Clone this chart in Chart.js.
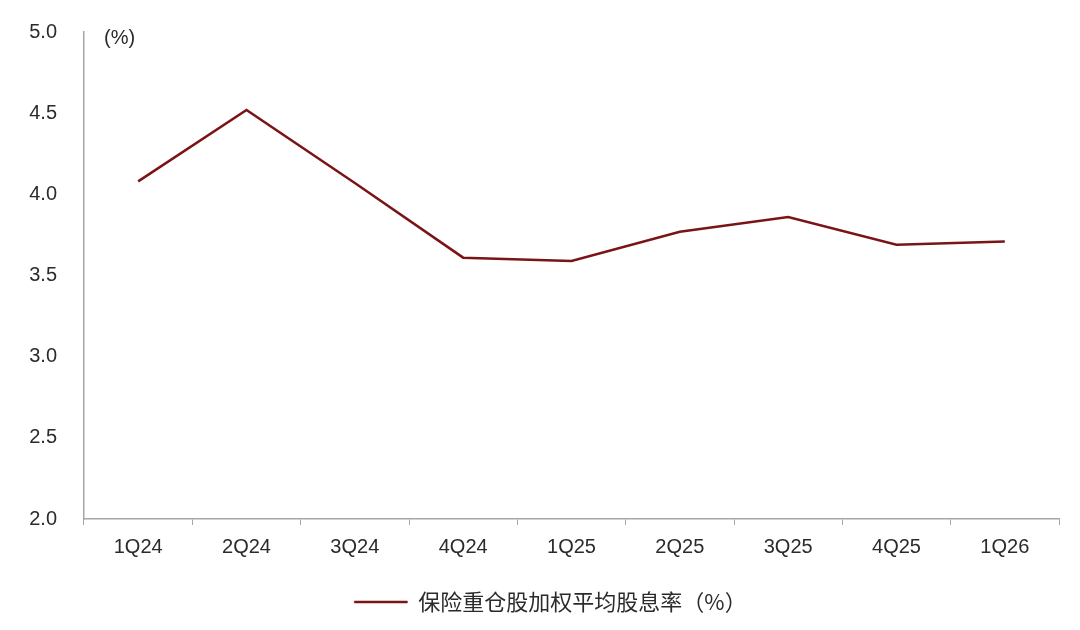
<!DOCTYPE html>
<html>
<head>
<meta charset="utf-8">
<script src="https://cdn.jsdelivr.net/npm/chart.js@4"></script>
<style>
  html, body { margin: 0; padding: 0; background: #fff; }
  #wrap { width: 1080px; height: 630px; }
</style>
</head>
<body>
<div id="wrap"><canvas id="chart" width="1080" height="630"></canvas></div>
<script>
// 季度
const quarters = ['1Q24', '2Q24', '3Q24', '4Q24', '1Q25', '2Q25', '3Q25', '4Q25', '1Q26'];
// 保险重仓股加权平均股息率（%）
const dividendYield = [4.08, 4.52, 4.07, 3.61, 3.59, 3.77, 3.86, 3.69, 3.71];
const seriesName = '保险重仓股加权平均股息率（%）';
const yTicks = [2.0, 2.5, 3.0, 3.5, 4.0, 4.5, 5.0];

const lineColor = '#7b1416';
const textColor = '#2b2b2b';
const axisColor = '#a6a6a6';
const latin = '"Liberation Sans", Arial, sans-serif';

// 左上角单位 "(%)"
const unitLabel = {
    id: 'unitLabel',
    afterDraw(chart) {
        const ctx = chart.ctx;
        ctx.save();
        ctx.font = '20px ' + latin;
        ctx.fillStyle = textColor;
        ctx.textBaseline = 'middle';
        ctx.fillText('(%)', chart.chartArea.left + 20, chart.chartArea.top + 6);
        ctx.restore();
    }
};

// 图例整体稍微右移
const legendShift = {
    id: 'legendShift',
    afterLayout(chart) {
        if (chart.legend) {
            chart.legend.left += 21;
            chart.legend.right += 21;
        }
    }
};

const ctx = document.getElementById('chart').getContext('2d');
new Chart(ctx, {
    type: 'line',
    data: {
        labels: quarters,
        datasets: [{
            label: seriesName,
            data: dividendYield,
            borderColor: lineColor,
            backgroundColor: lineColor,
            borderWidth: 2.5,
            pointRadius: 0,
            tension: 0,
            fill: false
        }]
    },
    options: {
        responsive: false,
        animation: false,
        layout: { padding: { top: 32, right: 21, left: 0, bottom: 7 } },
        plugins: {
            legend: {
                position: 'bottom',
                labels: {
                    boxWidth: 53,
                    boxHeight: 2,
                    padding: 22,
                    color: textColor,
                    font: { family: '"Noto Sans CJK SC", "Liberation Sans", sans-serif', size: 22 },
                    generateLabels(chart) {
                        const items = Chart.defaults.plugins.legend.labels.generateLabels(chart);
                        items.forEach(it => { it.lineWidth = 0.5; });
                        return items;
                    }
                }
            },
            tooltip: { enabled: false }
        },
        scales: {
            x: {
                offset: true,
                grid: {
                    offset: true,
                    drawOnChartArea: false,
                    tickLength: 6,
                    color: axisColor
                },
                border: { color: axisColor, width: 1.5 },
                ticks: {
                    color: textColor,
                    padding: 10,
                    font: { family: latin, size: 20 }
                }
            },
            y: {
                min: 2,
                max: 5,
                afterFit(scale) { scale.width = 84; },
                afterBuildTicks(scale) { scale.ticks = yTicks.map(v => ({ value: v })); },
                grid: {
                    drawOnChartArea: false,
                    tickLength: 27,
                    tickColor: 'rgba(0,0,0,0)'
                },
                border: { color: axisColor, width: 1.5 },
                ticks: {
                    color: textColor,
                    padding: 0,
                    callback: v => v.toFixed(1),
                    font: { family: latin, size: 20 }
                }
            }
        }
    },
    plugins: [unitLabel, legendShift]
});
</script>
</body>
</html>
